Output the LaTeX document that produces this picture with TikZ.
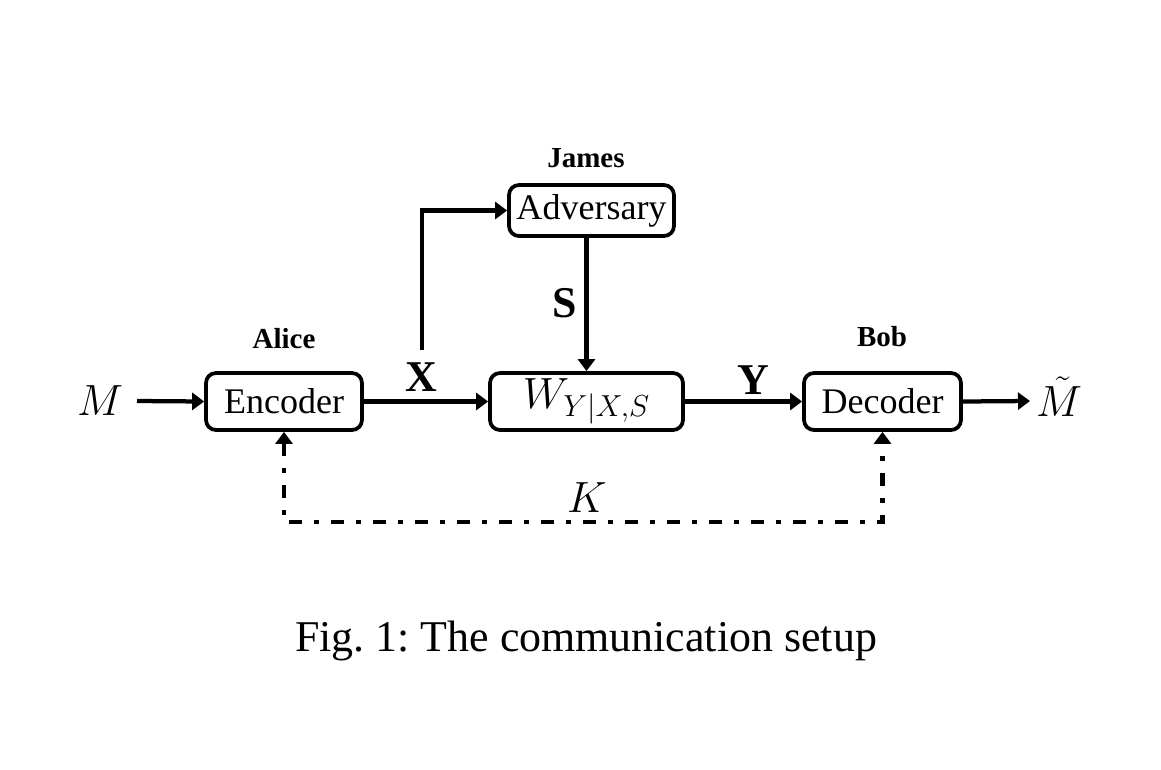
\documentclass[tikz,border=0pt]{standalone}
\usepackage{fontspec}
\setmainfont{Liberation Serif}
\usetikzlibrary{arrows.meta}
\begin{document}
\begin{tikzpicture}[x=0.02cm,y=-0.02cm,
  blk/.style={draw,line width=0.075cm,rounded corners=0.2cm,minimum height=1.14cm,inner sep=0pt,font=\fontsize{20.5}{24}\selectfont},
  who/.style={anchor=base,inner sep=0pt,font=\fontsize{16.5}{20}\selectfont\bfseries},
  sig/.style={inner sep=0pt,font=\fontsize{25}{30}\selectfont\bfseries},
  mth/.style={inner sep=0pt,font=\fontsize{24}{28}\selectfont},
  conn/.style={line width=0.085cm,-{Triangle[length=0.24cm,width=0.34cm]}},
  key/.style={line width=0.085cm,{Triangle[length=0.24cm,width=0.34cm]}-{Triangle[length=0.24cm,width=0.34cm]},dash pattern=on 0.26cm off 0.24cm on 0.1cm off 0.24cm}]
\useasboundingbox (0,0) rectangle (1161,769);
% blocks
\node[blk,minimum width=3.12cm] (enc) at (284,401.5) {Encoder};
\node[blk,minimum width=3.86cm] (ch) at (586.5,401.5) {\fontsize{23}{27}\selectfont$W_{Y|X,S}$};
\node[blk,minimum width=3.14cm] (dec) at (882.5,401.5) {Decoder};
\node[blk,minimum width=3.3cm,minimum height=1.02cm] (adv) at (591.5,210.5) {Adversary};
% party names
\node[who] (alice) at (284,348) {Alice};
\node[who] (james) at (586,167) {James};
\node[who] (bob) at (882,346) {Bob};
% outer symbols
\node[mth] (m) at (100,401) {$M$};
\node[mth] (mh) at (1059,397) {$\tilde{M}$};
\node[sig] (lx) at (421,377) {X};
\node[sig] (ls) at (565,303) {S};
\node[sig] (ly) at (753,380) {Y};
\node[mth] (lk) at (587,498) {$K$};
\coordinate (br) at (422,350);
\coordinate (m0) at (137,401);
\coordinate (m1) at (1030,401);
% connectors
\draw[conn] (m0) -- (enc.west);
\draw[conn] (enc.east) -- (ch.west);
\draw[conn] (br) |- (adv.west);
\draw[conn] (ch.north |- adv.south) -- (ch.north);
\draw[conn] (ch.east) -- (dec.west);
\draw[conn] (dec.east) -- (m1);
\draw[key] (enc.south) -- (enc.south |- 0,522) -| (dec.south);
% caption
\node[anchor=base,inner sep=0pt,font=\fontsize{25}{30}\selectfont] (cap) at (586,651) {\frenchspacing Fig. 1: The communication setup};
\end{tikzpicture}
\end{document}
